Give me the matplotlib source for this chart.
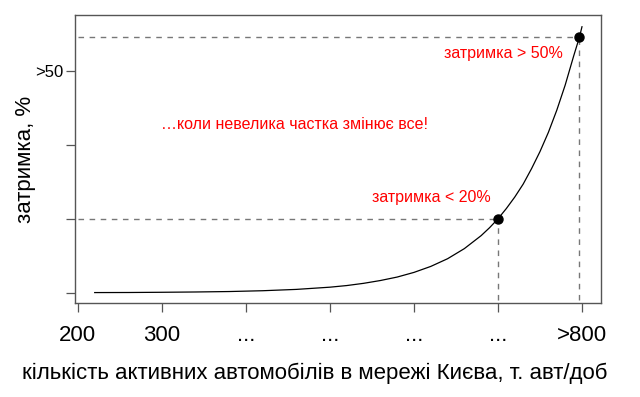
import matplotlib
matplotlib.use('Agg')
import matplotlib.pyplot as plt

plt.rcParams['font.family'] = ['Liberation Sans', 'DejaVu Sans']

# curve (x in thousand cars/day, y in tick units)
curve_x = [220, 260, 300, 340, 380, 420, 460, 500, 520, 540, 560, 580, 600,
           620, 640, 660, 680, 690, 700, 710, 720, 730, 740, 750, 760, 770,
           780, 790, 797, 800]
curve_y = [0.002, 0.003, 0.006, 0.010, 0.016, 0.027, 0.045, 0.075, 0.097,
           0.127, 0.165, 0.212, 0.275, 0.356, 0.46, 0.597, 0.773, 0.88, 1.0,
           1.14, 1.295, 1.47, 1.68, 1.91, 2.17, 2.47, 2.81, 3.2, 3.46, 3.6]

# highlighted points
point_x = [700, 797]
point_y = [1.0, 3.46]

xtick_pos = [200, 300, 400, 500, 600, 700, 800]
xtick_labels = ['200', '300', '...', '...', '...', '...', '>800']
ytick_pos = [0, 1, 2, 3]
ytick_labels = ['', '', '', '>50']

fig = plt.figure(figsize=(6.4, 3.97), dpi=100)
ax = fig.add_axes([0.117, 0.2368, 0.822, 0.7252])

ax.set_xlim(196.4, 822.6)
ax.set_ylim(-0.139, 3.758)

# dashed guide lines
for px, py in zip(point_x, point_y):
    ax.plot([200, px], [py, py], ls=(0, (4, 4)), color='#777777', lw=1)
    ax.plot([px, px], [-0.1, py], ls=(0, (4, 4)), color='#777777', lw=1)

ax.plot(curve_x, curve_y, color='black', lw=0.9)
ax.plot(point_x, point_y, 'o', color='black', ms=6.5)

ax.text(458, 2.28, '…коли невелика частка змінює все!', color='red',
        fontsize=11.5, ha='center', va='center')
ax.text(707, 3.24, 'затримка > 50%', color='red', fontsize=11.5,
        ha='center', va='center')
ax.text(621, 1.29, 'затримка < 20%', color='red', fontsize=11.5,
        ha='center', va='center')

ax.set_xticks(xtick_pos)
ax.set_xticklabels(xtick_labels, fontsize=16)
ax.set_yticks(ytick_pos)
ax.set_yticklabels(ytick_labels, fontsize=12)
ax.tick_params(axis='both', direction='out', length=6.5, width=0.9,
               color='#555555')
ax.tick_params(axis='x', pad=9)
ax.tick_params(axis='y', pad=2)

for sp in ax.spines.values():
    sp.set_color('#555555')
    sp.set_linewidth(1)

ax.set_xlabel('кількість активних автомобілів в мережі Києва, т. авт/доб',
              fontsize=16)
ax.xaxis.set_label_coords(0.456, -0.243)
ax.xaxis.label.set_va('center')
ax.set_ylabel('затримка, %', fontsize=16)
ax.yaxis.set_label_coords(-0.093, 0.5)
ax.yaxis.label.set_va('center')

fig.savefig('out.png', dpi=100)
